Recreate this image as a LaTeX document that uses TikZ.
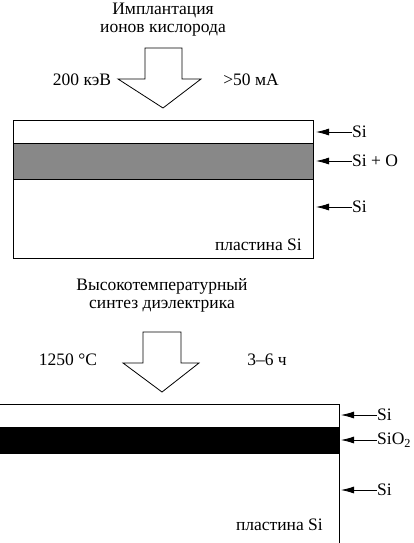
\documentclass[tikz,border=0pt]{standalone}
\usepackage{fontspec}
\setmainfont{Liberation Serif}
\usetikzlibrary{arrows.meta}
\begin{document}
\begin{tikzpicture}[x=1pt,y=-1pt,
  txt/.style={inner sep=0pt,font=\fontsize{17.5}{18}\selectfont},
  ttl/.style={txt,align=center},
  lbl/.style={txt,anchor=west},
  ptr/.style={-{Latex[length=13pt,width=7pt]},line width=0.8pt},
  big/.style={draw,line width=0.8pt,fill=white},
  lay/.style={line width=1pt}]
\useasboundingbox (0,0) rectangle (414,543);
% ---- top part
\node[ttl] (t1) at (163,20) {Имплантация\\ионов кислорода};
\node[txt] (e1) at (82,80) {200 кэВ};
\node[txt] (c1) at (251,80) {>50 мА};
\draw[big] (145,48) -- (182,48) -- (182,79) -- (201,79) -- (163,108) -- (118,79) -- (145,79) -- cycle;
% wafer 1
\fill[fill={rgb,255:red,136;green,136;blue,136}] (13,143) rectangle (313,179);
\draw[lay] (13,120) rectangle (313,258);
\draw[lay] (13,143) -- (313,143);
\draw[lay] (13,179) -- (313,179);
\node[txt,anchor=east] (w1) at (302,245) {пластина Si};
\node[lbl] (a1) at (352,132) {Si};
\node[lbl] (a2) at (352,161) {Si + O};
\node[lbl] (a3) at (352,207) {Si};
\draw[ptr] (a1.west) -- (316,132);
\draw[ptr] (a2.west) -- (316,161);
\draw[ptr] (a3.west) -- (316,207);
% ---- bottom part
\node[ttl] (t3) at (162,295) {Высокотемпературный\\синтез диэлектрика};
\node[txt] (e2) at (68,360) {1250 °C};
\node[txt] (c2) at (267,360) {3–6 ч};
\draw[big] (143,332) -- (181,332) -- (181,363) -- (199,363) -- (162,392) -- (123,363) -- (143,363) -- cycle;
% wafer 2
\fill[black] (0,427) rectangle (339,454);
\draw[lay] (0,404) -- (339,404) -- (339,543);
\node[txt,anchor=east] (w2) at (323,525) {пластина Si};
\node[lbl] (b1) at (377,415) {Si};
\node[lbl] (b2) at (377,440) {SiO\textsubscript{2}};
\node[lbl] (b3) at (377,490) {Si};
\draw[ptr] (b1.west) -- (341,415);
\draw[ptr] (b2.west) -- (341,440);
\draw[ptr] (b3.west) -- (341,490);
\end{tikzpicture}
\end{document}
